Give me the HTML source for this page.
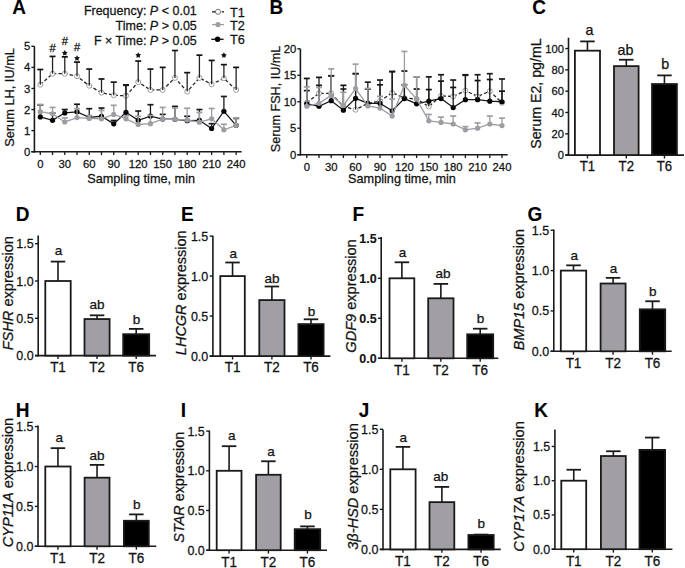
<!DOCTYPE html><html><head><meta charset="utf-8"><style>html,body{margin:0;padding:0;background:#fff;}svg{display:block;}text{font-family:"Liberation Sans", sans-serif;-webkit-font-smoothing:antialiased;}</style></head><body>
<svg width="685" height="568" viewBox="0 0 685 568">
<rect width="685" height="568" fill="#fff"/>
<line x1="34.40" y1="46.30" x2="34.40" y2="152.50" stroke="#1a1a1a" stroke-width="1.6" />
<line x1="31.40" y1="151.70" x2="241.60" y2="151.70" stroke="#1a1a1a" stroke-width="1.6" />
<line x1="31.40" y1="151.70" x2="34.40" y2="151.70" stroke="#1a1a1a" stroke-width="1.4" />
<text transform="translate(30.40 155.77) scale(1 1.04)" font-size="11.3" text-anchor="end" font-weight="normal" font-style="normal" fill="#111" stroke="#111" stroke-width="0.25" >0</text>
<line x1="31.40" y1="130.62" x2="34.40" y2="130.62" stroke="#1a1a1a" stroke-width="1.4" />
<text transform="translate(30.40 134.69) scale(1 1.04)" font-size="11.3" text-anchor="end" font-weight="normal" font-style="normal" fill="#111" stroke="#111" stroke-width="0.25" >1</text>
<line x1="31.40" y1="109.54" x2="34.40" y2="109.54" stroke="#1a1a1a" stroke-width="1.4" />
<text transform="translate(30.40 113.61) scale(1 1.04)" font-size="11.3" text-anchor="end" font-weight="normal" font-style="normal" fill="#111" stroke="#111" stroke-width="0.25" >2</text>
<line x1="31.40" y1="88.46" x2="34.40" y2="88.46" stroke="#1a1a1a" stroke-width="1.4" />
<text transform="translate(30.40 92.53) scale(1 1.04)" font-size="11.3" text-anchor="end" font-weight="normal" font-style="normal" fill="#111" stroke="#111" stroke-width="0.25" >3</text>
<line x1="31.40" y1="67.38" x2="34.40" y2="67.38" stroke="#1a1a1a" stroke-width="1.4" />
<text transform="translate(30.40 71.45) scale(1 1.04)" font-size="11.3" text-anchor="end" font-weight="normal" font-style="normal" fill="#111" stroke="#111" stroke-width="0.25" >4</text>
<line x1="31.40" y1="46.30" x2="34.40" y2="46.30" stroke="#1a1a1a" stroke-width="1.4" />
<text transform="translate(30.40 50.37) scale(1 1.04)" font-size="11.3" text-anchor="end" font-weight="normal" font-style="normal" fill="#111" stroke="#111" stroke-width="0.25" >5</text>
<line x1="40.30" y1="151.70" x2="40.30" y2="155.00" stroke="#1a1a1a" stroke-width="1.3" />
<text transform="translate(40.30 167.50) scale(1 1.04)" font-size="11.3" text-anchor="middle" font-weight="normal" font-style="normal" fill="#111" stroke="#111" stroke-width="0.25" >0</text>
<line x1="52.54" y1="151.70" x2="52.54" y2="155.00" stroke="#1a1a1a" stroke-width="1.3" />
<line x1="64.78" y1="151.70" x2="64.78" y2="155.00" stroke="#1a1a1a" stroke-width="1.3" />
<text transform="translate(64.78 167.50) scale(1 1.04)" font-size="11.3" text-anchor="middle" font-weight="normal" font-style="normal" fill="#111" stroke="#111" stroke-width="0.25" >30</text>
<line x1="77.02" y1="151.70" x2="77.02" y2="155.00" stroke="#1a1a1a" stroke-width="1.3" />
<line x1="89.26" y1="151.70" x2="89.26" y2="155.00" stroke="#1a1a1a" stroke-width="1.3" />
<text transform="translate(89.26 167.50) scale(1 1.04)" font-size="11.3" text-anchor="middle" font-weight="normal" font-style="normal" fill="#111" stroke="#111" stroke-width="0.25" >60</text>
<line x1="101.50" y1="151.70" x2="101.50" y2="155.00" stroke="#1a1a1a" stroke-width="1.3" />
<line x1="113.74" y1="151.70" x2="113.74" y2="155.00" stroke="#1a1a1a" stroke-width="1.3" />
<text transform="translate(113.74 167.50) scale(1 1.04)" font-size="11.3" text-anchor="middle" font-weight="normal" font-style="normal" fill="#111" stroke="#111" stroke-width="0.25" >90</text>
<line x1="125.98" y1="151.70" x2="125.98" y2="155.00" stroke="#1a1a1a" stroke-width="1.3" />
<line x1="138.22" y1="151.70" x2="138.22" y2="155.00" stroke="#1a1a1a" stroke-width="1.3" />
<text transform="translate(138.22 167.50) scale(1 1.04)" font-size="11.3" text-anchor="middle" font-weight="normal" font-style="normal" fill="#111" stroke="#111" stroke-width="0.25" >120</text>
<line x1="150.46" y1="151.70" x2="150.46" y2="155.00" stroke="#1a1a1a" stroke-width="1.3" />
<line x1="162.70" y1="151.70" x2="162.70" y2="155.00" stroke="#1a1a1a" stroke-width="1.3" />
<text transform="translate(162.70 167.50) scale(1 1.04)" font-size="11.3" text-anchor="middle" font-weight="normal" font-style="normal" fill="#111" stroke="#111" stroke-width="0.25" >150</text>
<line x1="174.94" y1="151.70" x2="174.94" y2="155.00" stroke="#1a1a1a" stroke-width="1.3" />
<line x1="187.18" y1="151.70" x2="187.18" y2="155.00" stroke="#1a1a1a" stroke-width="1.3" />
<text transform="translate(187.18 167.50) scale(1 1.04)" font-size="11.3" text-anchor="middle" font-weight="normal" font-style="normal" fill="#111" stroke="#111" stroke-width="0.25" >180</text>
<line x1="199.42" y1="151.70" x2="199.42" y2="155.00" stroke="#1a1a1a" stroke-width="1.3" />
<line x1="211.66" y1="151.70" x2="211.66" y2="155.00" stroke="#1a1a1a" stroke-width="1.3" />
<text transform="translate(211.66 167.50) scale(1 1.04)" font-size="11.3" text-anchor="middle" font-weight="normal" font-style="normal" fill="#111" stroke="#111" stroke-width="0.25" >210</text>
<line x1="223.90" y1="151.70" x2="223.90" y2="155.00" stroke="#1a1a1a" stroke-width="1.3" />
<line x1="236.14" y1="151.70" x2="236.14" y2="155.00" stroke="#1a1a1a" stroke-width="1.3" />
<text transform="translate(236.14 167.50) scale(1 1.04)" font-size="11.3" text-anchor="middle" font-weight="normal" font-style="normal" fill="#111" stroke="#111" stroke-width="0.25" >240</text>
<text transform="translate(141.10 182.80) scale(1 1.04)" font-size="12.7" text-anchor="middle" font-weight="normal" font-style="normal" fill="#111" stroke="#111" stroke-width="0.25" >Sampling time, min</text>
<text transform="translate(14.30,97.45) rotate(-90) scale(1 1.015)" x="0" y="0" font-size="12.8" text-anchor="middle" fill="#111" stroke="#111" stroke-width="0.25">Serum LH, IU/mL</text>
<text transform="translate(12.30 13.70) scale(1 1.04)" font-size="19" text-anchor="start" font-weight="bold" font-style="normal" fill="#000" stroke="#000" stroke-width="0.1" >A</text>
<polyline points="40.30,84.67 52.54,73.70 64.78,73.70 77.02,76.23 89.26,85.72 101.50,92.68 113.74,95.21 125.98,95.84 138.22,82.14 150.46,89.94 162.70,89.94 174.94,77.92 187.18,91.62 199.42,77.92 211.66,84.24 223.90,78.34 236.14,89.94" fill="none" stroke="#222" stroke-width="1.3" stroke-dasharray="3.4,2.2"/>
<circle cx="40.30" cy="84.67" r="2.5" fill="#fff" stroke="#777" stroke-width="0.7"/>
<circle cx="52.54" cy="73.70" r="2.5" fill="#fff" stroke="#777" stroke-width="0.7"/>
<circle cx="64.78" cy="73.70" r="2.5" fill="#fff" stroke="#777" stroke-width="0.7"/>
<circle cx="77.02" cy="76.23" r="2.5" fill="#fff" stroke="#777" stroke-width="0.7"/>
<circle cx="89.26" cy="85.72" r="2.5" fill="#fff" stroke="#777" stroke-width="0.7"/>
<circle cx="101.50" cy="92.68" r="2.5" fill="#fff" stroke="#777" stroke-width="0.7"/>
<circle cx="113.74" cy="95.21" r="2.5" fill="#fff" stroke="#777" stroke-width="0.7"/>
<circle cx="125.98" cy="95.84" r="2.5" fill="#fff" stroke="#777" stroke-width="0.7"/>
<circle cx="138.22" cy="82.14" r="2.5" fill="#fff" stroke="#777" stroke-width="0.7"/>
<circle cx="150.46" cy="89.94" r="2.5" fill="#fff" stroke="#777" stroke-width="0.7"/>
<circle cx="162.70" cy="89.94" r="2.5" fill="#fff" stroke="#777" stroke-width="0.7"/>
<circle cx="174.94" cy="77.92" r="2.5" fill="#fff" stroke="#777" stroke-width="0.7"/>
<circle cx="187.18" cy="91.62" r="2.5" fill="#fff" stroke="#777" stroke-width="0.7"/>
<circle cx="199.42" cy="77.92" r="2.5" fill="#fff" stroke="#777" stroke-width="0.7"/>
<circle cx="211.66" cy="84.24" r="2.5" fill="#fff" stroke="#777" stroke-width="0.7"/>
<circle cx="223.90" cy="78.34" r="2.5" fill="#fff" stroke="#777" stroke-width="0.7"/>
<circle cx="236.14" cy="89.94" r="2.5" fill="#fff" stroke="#777" stroke-width="0.7"/>
<line x1="40.30" y1="69.49" x2="40.30" y2="84.67" stroke="#222" stroke-width="1.3" />
<line x1="37.30" y1="69.49" x2="43.30" y2="69.49" stroke="#111" stroke-width="1.7" />
<line x1="52.54" y1="56.42" x2="52.54" y2="73.70" stroke="#222" stroke-width="1.3" />
<line x1="49.54" y1="56.42" x2="55.54" y2="56.42" stroke="#111" stroke-width="1.7" />
<line x1="64.78" y1="56.84" x2="64.78" y2="73.70" stroke="#222" stroke-width="1.3" />
<line x1="61.78" y1="56.84" x2="67.78" y2="56.84" stroke="#111" stroke-width="1.7" />
<line x1="77.02" y1="62.11" x2="77.02" y2="76.23" stroke="#222" stroke-width="1.3" />
<line x1="74.02" y1="62.11" x2="80.02" y2="62.11" stroke="#111" stroke-width="1.7" />
<line x1="89.26" y1="69.07" x2="89.26" y2="85.72" stroke="#222" stroke-width="1.3" />
<line x1="86.26" y1="69.07" x2="92.26" y2="69.07" stroke="#111" stroke-width="1.7" />
<line x1="101.50" y1="78.97" x2="101.50" y2="92.68" stroke="#222" stroke-width="1.3" />
<line x1="98.50" y1="78.97" x2="104.50" y2="78.97" stroke="#111" stroke-width="1.7" />
<line x1="113.74" y1="82.14" x2="113.74" y2="95.21" stroke="#222" stroke-width="1.3" />
<line x1="110.74" y1="82.14" x2="116.74" y2="82.14" stroke="#111" stroke-width="1.7" />
<line x1="125.98" y1="84.88" x2="125.98" y2="95.84" stroke="#222" stroke-width="1.3" />
<line x1="122.98" y1="84.88" x2="128.98" y2="84.88" stroke="#111" stroke-width="1.7" />
<line x1="138.22" y1="61.06" x2="138.22" y2="82.14" stroke="#222" stroke-width="1.3" />
<line x1="135.22" y1="61.06" x2="141.22" y2="61.06" stroke="#111" stroke-width="1.7" />
<line x1="150.46" y1="69.07" x2="150.46" y2="89.94" stroke="#222" stroke-width="1.3" />
<line x1="147.46" y1="69.07" x2="153.46" y2="69.07" stroke="#111" stroke-width="1.7" />
<line x1="162.70" y1="67.38" x2="162.70" y2="89.94" stroke="#222" stroke-width="1.3" />
<line x1="159.70" y1="67.38" x2="165.70" y2="67.38" stroke="#111" stroke-width="1.7" />
<line x1="174.94" y1="50.52" x2="174.94" y2="77.92" stroke="#222" stroke-width="1.3" />
<line x1="171.94" y1="50.52" x2="177.94" y2="50.52" stroke="#111" stroke-width="1.7" />
<line x1="187.18" y1="72.65" x2="187.18" y2="91.62" stroke="#222" stroke-width="1.3" />
<line x1="184.18" y1="72.65" x2="190.18" y2="72.65" stroke="#111" stroke-width="1.7" />
<line x1="199.42" y1="55.15" x2="199.42" y2="77.92" stroke="#222" stroke-width="1.3" />
<line x1="196.42" y1="55.15" x2="202.42" y2="55.15" stroke="#111" stroke-width="1.7" />
<line x1="211.66" y1="60.42" x2="211.66" y2="84.24" stroke="#222" stroke-width="1.3" />
<line x1="208.66" y1="60.42" x2="214.66" y2="60.42" stroke="#111" stroke-width="1.7" />
<line x1="223.90" y1="64.64" x2="223.90" y2="78.34" stroke="#222" stroke-width="1.3" />
<line x1="220.90" y1="64.64" x2="226.90" y2="64.64" stroke="#111" stroke-width="1.7" />
<line x1="236.14" y1="67.38" x2="236.14" y2="89.94" stroke="#222" stroke-width="1.3" />
<line x1="233.14" y1="67.38" x2="239.14" y2="67.38" stroke="#111" stroke-width="1.7" />
<polyline points="40.30,116.92 52.54,120.29 64.78,112.91 77.02,111.86 89.26,117.34 101.50,116.29 113.74,123.87 125.98,112.28 138.22,120.29 150.46,116.07 162.70,119.03 174.94,119.24 187.18,120.71 199.42,120.29 211.66,128.51 223.90,111.23 236.14,125.35" fill="none" stroke="#1a1a1a" stroke-width="1.3" />
<circle cx="40.30" cy="116.92" r="2.6" fill="#000"/>
<circle cx="52.54" cy="120.29" r="2.6" fill="#000"/>
<circle cx="64.78" cy="112.91" r="2.6" fill="#000"/>
<circle cx="77.02" cy="111.86" r="2.6" fill="#000"/>
<circle cx="89.26" cy="117.34" r="2.6" fill="#000"/>
<circle cx="101.50" cy="116.29" r="2.6" fill="#000"/>
<circle cx="113.74" cy="123.87" r="2.6" fill="#000"/>
<circle cx="125.98" cy="112.28" r="2.6" fill="#000"/>
<circle cx="138.22" cy="120.29" r="2.6" fill="#000"/>
<circle cx="150.46" cy="116.07" r="2.6" fill="#000"/>
<circle cx="162.70" cy="119.03" r="2.6" fill="#000"/>
<circle cx="174.94" cy="119.24" r="2.6" fill="#000"/>
<circle cx="187.18" cy="120.71" r="2.6" fill="#000"/>
<circle cx="199.42" cy="120.29" r="2.6" fill="#000"/>
<circle cx="211.66" cy="128.51" r="2.6" fill="#000"/>
<circle cx="223.90" cy="111.23" r="2.6" fill="#000"/>
<circle cx="236.14" cy="125.35" r="2.6" fill="#000"/>
<line x1="40.30" y1="104.90" x2="40.30" y2="116.92" stroke="#1a1a1a" stroke-width="1.3" />
<line x1="37.30" y1="104.90" x2="43.30" y2="104.90" stroke="#1a1a1a" stroke-width="1.7" />
<line x1="52.54" y1="113.12" x2="52.54" y2="120.29" stroke="#1a1a1a" stroke-width="1.3" />
<line x1="49.54" y1="113.12" x2="55.54" y2="113.12" stroke="#1a1a1a" stroke-width="1.7" />
<line x1="64.78" y1="109.54" x2="64.78" y2="112.91" stroke="#1a1a1a" stroke-width="1.3" />
<line x1="61.78" y1="109.54" x2="67.78" y2="109.54" stroke="#1a1a1a" stroke-width="1.7" />
<line x1="77.02" y1="104.27" x2="77.02" y2="111.86" stroke="#1a1a1a" stroke-width="1.3" />
<line x1="74.02" y1="104.27" x2="80.02" y2="104.27" stroke="#1a1a1a" stroke-width="1.7" />
<line x1="89.26" y1="108.70" x2="89.26" y2="117.34" stroke="#1a1a1a" stroke-width="1.3" />
<line x1="86.26" y1="108.70" x2="92.26" y2="108.70" stroke="#1a1a1a" stroke-width="1.7" />
<line x1="101.50" y1="108.06" x2="101.50" y2="116.29" stroke="#1a1a1a" stroke-width="1.3" />
<line x1="98.50" y1="108.06" x2="104.50" y2="108.06" stroke="#1a1a1a" stroke-width="1.7" />
<line x1="113.74" y1="120.50" x2="113.74" y2="123.87" stroke="#1a1a1a" stroke-width="1.3" />
<line x1="110.74" y1="120.50" x2="116.74" y2="120.50" stroke="#1a1a1a" stroke-width="1.7" />
<line x1="125.98" y1="85.30" x2="125.98" y2="112.28" stroke="#1a1a1a" stroke-width="1.3" />
<line x1="122.98" y1="85.30" x2="128.98" y2="85.30" stroke="#1a1a1a" stroke-width="1.7" />
<line x1="138.22" y1="111.02" x2="138.22" y2="120.29" stroke="#1a1a1a" stroke-width="1.3" />
<line x1="135.22" y1="111.02" x2="141.22" y2="111.02" stroke="#1a1a1a" stroke-width="1.7" />
<line x1="150.46" y1="104.69" x2="150.46" y2="116.07" stroke="#1a1a1a" stroke-width="1.3" />
<line x1="147.46" y1="104.69" x2="153.46" y2="104.69" stroke="#1a1a1a" stroke-width="1.7" />
<line x1="162.70" y1="114.39" x2="162.70" y2="119.03" stroke="#1a1a1a" stroke-width="1.3" />
<line x1="159.70" y1="114.39" x2="165.70" y2="114.39" stroke="#1a1a1a" stroke-width="1.7" />
<line x1="174.94" y1="106.38" x2="174.94" y2="119.24" stroke="#1a1a1a" stroke-width="1.3" />
<line x1="171.94" y1="106.38" x2="177.94" y2="106.38" stroke="#1a1a1a" stroke-width="1.7" />
<line x1="187.18" y1="116.29" x2="187.18" y2="120.71" stroke="#1a1a1a" stroke-width="1.3" />
<line x1="184.18" y1="116.29" x2="190.18" y2="116.29" stroke="#1a1a1a" stroke-width="1.7" />
<line x1="199.42" y1="109.54" x2="199.42" y2="120.29" stroke="#1a1a1a" stroke-width="1.3" />
<line x1="196.42" y1="109.54" x2="202.42" y2="109.54" stroke="#1a1a1a" stroke-width="1.7" />
<line x1="211.66" y1="123.66" x2="211.66" y2="128.51" stroke="#1a1a1a" stroke-width="1.3" />
<line x1="208.66" y1="123.66" x2="214.66" y2="123.66" stroke="#1a1a1a" stroke-width="1.7" />
<line x1="223.90" y1="96.47" x2="223.90" y2="111.23" stroke="#1a1a1a" stroke-width="1.3" />
<line x1="220.90" y1="96.47" x2="226.90" y2="96.47" stroke="#1a1a1a" stroke-width="1.7" />
<line x1="236.14" y1="118.39" x2="236.14" y2="125.35" stroke="#1a1a1a" stroke-width="1.3" />
<line x1="233.14" y1="118.39" x2="239.14" y2="118.39" stroke="#1a1a1a" stroke-width="1.7" />
<polyline points="40.30,111.65 52.54,113.76 64.78,121.98 77.02,117.55 89.26,118.39 101.50,118.82 113.74,114.39 125.98,118.82 138.22,124.51 150.46,123.66 162.70,119.03 174.94,119.24 187.18,120.08 199.42,122.19 211.66,118.82 223.90,129.78 236.14,125.35" fill="none" stroke="#9e9da3" stroke-width="1.3" />
<circle cx="40.30" cy="111.65" r="2.6" fill="#9e9da3"/>
<circle cx="52.54" cy="113.76" r="2.6" fill="#9e9da3"/>
<circle cx="64.78" cy="121.98" r="2.6" fill="#9e9da3"/>
<circle cx="77.02" cy="117.55" r="2.6" fill="#9e9da3"/>
<circle cx="89.26" cy="118.39" r="2.6" fill="#9e9da3"/>
<circle cx="101.50" cy="118.82" r="2.6" fill="#9e9da3"/>
<circle cx="113.74" cy="114.39" r="2.6" fill="#9e9da3"/>
<circle cx="125.98" cy="118.82" r="2.6" fill="#9e9da3"/>
<circle cx="138.22" cy="124.51" r="2.6" fill="#9e9da3"/>
<circle cx="150.46" cy="123.66" r="2.6" fill="#9e9da3"/>
<circle cx="162.70" cy="119.03" r="2.6" fill="#9e9da3"/>
<circle cx="174.94" cy="119.24" r="2.6" fill="#9e9da3"/>
<circle cx="187.18" cy="120.08" r="2.6" fill="#9e9da3"/>
<circle cx="199.42" cy="122.19" r="2.6" fill="#9e9da3"/>
<circle cx="211.66" cy="118.82" r="2.6" fill="#9e9da3"/>
<circle cx="223.90" cy="129.78" r="2.6" fill="#9e9da3"/>
<circle cx="236.14" cy="125.35" r="2.6" fill="#9e9da3"/>
<line x1="40.30" y1="104.48" x2="40.30" y2="111.65" stroke="#9e9da3" stroke-width="1.3" />
<line x1="37.30" y1="104.48" x2="43.30" y2="104.48" stroke="#9e9da3" stroke-width="1.7" />
<line x1="52.54" y1="107.43" x2="52.54" y2="113.76" stroke="#9e9da3" stroke-width="1.3" />
<line x1="49.54" y1="107.43" x2="55.54" y2="107.43" stroke="#9e9da3" stroke-width="1.7" />
<line x1="64.78" y1="117.97" x2="64.78" y2="121.98" stroke="#9e9da3" stroke-width="1.3" />
<line x1="61.78" y1="117.97" x2="67.78" y2="117.97" stroke="#9e9da3" stroke-width="1.7" />
<line x1="77.02" y1="108.70" x2="77.02" y2="117.55" stroke="#9e9da3" stroke-width="1.3" />
<line x1="74.02" y1="108.70" x2="80.02" y2="108.70" stroke="#9e9da3" stroke-width="1.7" />
<line x1="89.26" y1="115.44" x2="89.26" y2="118.39" stroke="#9e9da3" stroke-width="1.3" />
<line x1="86.26" y1="115.44" x2="92.26" y2="115.44" stroke="#9e9da3" stroke-width="1.7" />
<line x1="101.50" y1="110.38" x2="101.50" y2="118.82" stroke="#9e9da3" stroke-width="1.3" />
<line x1="98.50" y1="110.38" x2="104.50" y2="110.38" stroke="#9e9da3" stroke-width="1.7" />
<line x1="113.74" y1="105.32" x2="113.74" y2="114.39" stroke="#9e9da3" stroke-width="1.3" />
<line x1="110.74" y1="105.32" x2="116.74" y2="105.32" stroke="#9e9da3" stroke-width="1.7" />
<line x1="125.98" y1="115.86" x2="125.98" y2="118.82" stroke="#9e9da3" stroke-width="1.3" />
<line x1="122.98" y1="115.86" x2="128.98" y2="115.86" stroke="#9e9da3" stroke-width="1.7" />
<line x1="138.22" y1="116.29" x2="138.22" y2="124.51" stroke="#9e9da3" stroke-width="1.3" />
<line x1="135.22" y1="116.29" x2="141.22" y2="116.29" stroke="#9e9da3" stroke-width="1.7" />
<line x1="150.46" y1="115.44" x2="150.46" y2="123.66" stroke="#9e9da3" stroke-width="1.3" />
<line x1="147.46" y1="115.44" x2="153.46" y2="115.44" stroke="#9e9da3" stroke-width="1.7" />
<line x1="162.70" y1="107.43" x2="162.70" y2="119.03" stroke="#9e9da3" stroke-width="1.3" />
<line x1="159.70" y1="107.43" x2="165.70" y2="107.43" stroke="#9e9da3" stroke-width="1.7" />
<line x1="174.94" y1="108.06" x2="174.94" y2="119.24" stroke="#9e9da3" stroke-width="1.3" />
<line x1="171.94" y1="108.06" x2="177.94" y2="108.06" stroke="#9e9da3" stroke-width="1.7" />
<line x1="187.18" y1="108.28" x2="187.18" y2="120.08" stroke="#9e9da3" stroke-width="1.3" />
<line x1="184.18" y1="108.28" x2="190.18" y2="108.28" stroke="#9e9da3" stroke-width="1.7" />
<line x1="199.42" y1="112.49" x2="199.42" y2="122.19" stroke="#9e9da3" stroke-width="1.3" />
<line x1="196.42" y1="112.49" x2="202.42" y2="112.49" stroke="#9e9da3" stroke-width="1.7" />
<line x1="211.66" y1="108.49" x2="211.66" y2="118.82" stroke="#9e9da3" stroke-width="1.3" />
<line x1="208.66" y1="108.49" x2="214.66" y2="108.49" stroke="#9e9da3" stroke-width="1.7" />
<line x1="223.90" y1="124.30" x2="223.90" y2="129.78" stroke="#9e9da3" stroke-width="1.3" />
<line x1="220.90" y1="124.30" x2="226.90" y2="124.30" stroke="#9e9da3" stroke-width="1.7" />
<line x1="236.14" y1="117.97" x2="236.14" y2="125.35" stroke="#9e9da3" stroke-width="1.3" />
<line x1="233.14" y1="117.97" x2="239.14" y2="117.97" stroke="#9e9da3" stroke-width="1.7" />
<polygon points="64.78,50.05 65.72,51.81 67.68,52.16 66.30,53.59 66.57,55.57 64.78,54.70 62.99,55.57 63.26,53.59 61.88,52.16 63.84,51.81" fill="#111"/>
<polygon points="77.02,55.25 77.96,57.01 79.92,57.36 78.54,58.79 78.81,60.77 77.02,59.90 75.23,60.77 75.50,58.79 74.12,57.36 76.08,57.01" fill="#111"/>
<polygon points="138.22,52.25 139.16,54.01 141.12,54.36 139.74,55.79 140.01,57.77 138.22,56.90 136.43,57.77 136.70,55.79 135.32,54.36 137.28,54.01" fill="#111"/>
<polygon points="223.90,52.35 224.84,54.11 226.80,54.46 225.42,55.89 225.69,57.87 223.90,57.00 222.11,57.87 222.38,55.89 221.00,54.46 222.96,54.11" fill="#111"/>
<text transform="translate(52.64 51.90) scale(1 1.04)" font-size="11.2" text-anchor="middle" font-weight="normal" font-style="normal" fill="#111" stroke="#111" stroke-width="0.25" >#</text>
<text transform="translate(64.88 45.15) scale(1 1.04)" font-size="11.2" text-anchor="middle" font-weight="normal" font-style="normal" fill="#111" stroke="#111" stroke-width="0.25" >#</text>
<text transform="translate(77.12 50.60) scale(1 1.04)" font-size="11.2" text-anchor="middle" font-weight="normal" font-style="normal" fill="#111" stroke="#111" stroke-width="0.25" >#</text>
<text transform="translate(196.80 14.70) scale(1 1.04)" font-size="12.5" text-anchor="end" font-weight="normal" font-style="normal" fill="#111" stroke="#111" stroke-width="0.25" >Frequency: <tspan font-style="italic">P</tspan> &lt; 0.01</text>
<text transform="translate(196.80 29.90) scale(1 1.04)" font-size="12.5" text-anchor="end" font-weight="normal" font-style="normal" fill="#111" stroke="#111" stroke-width="0.25" >Time: <tspan font-style="italic">P</tspan> &gt; 0.05</text>
<text transform="translate(196.80 44.60) scale(1 1.04)" font-size="12.5" text-anchor="end" font-weight="normal" font-style="normal" fill="#111" stroke="#111" stroke-width="0.25" >F × Time: <tspan font-style="italic">P</tspan> &gt; 0.05</text>
<line x1="212.00" y1="11.80" x2="215.80" y2="11.80" stroke="#444" stroke-width="1.6" />
<line x1="221.80" y1="11.80" x2="224.00" y2="11.80" stroke="#444" stroke-width="1.6" />
<circle cx="218" cy="11.8" r="2.6" fill="#fff" stroke="#555" stroke-width="0.8"/>
<line x1="212.00" y1="24.60" x2="224.00" y2="24.60" stroke="#9e9da3" stroke-width="1.3" />
<circle cx="218" cy="24.6" r="2.6" fill="#9e9da3"/>
<line x1="211.30" y1="39.30" x2="223.60" y2="39.30" stroke="#1a1a1a" stroke-width="1.4" />
<circle cx="217.6" cy="39.3" r="2.7" fill="#000"/>
<text transform="translate(230.00 16.50) scale(1 1.04)" font-size="12.7" text-anchor="start" font-weight="normal" font-style="normal" fill="#111" stroke="#111" stroke-width="0.25" >T1</text>
<text transform="translate(230.00 29.60) scale(1 1.04)" font-size="12.7" text-anchor="start" font-weight="normal" font-style="normal" fill="#111" stroke="#111" stroke-width="0.25" >T2</text>
<text transform="translate(230.00 44.00) scale(1 1.04)" font-size="12.7" text-anchor="start" font-weight="normal" font-style="normal" fill="#111" stroke="#111" stroke-width="0.25" >T6</text>
<line x1="300.40" y1="48.80" x2="300.40" y2="155.50" stroke="#1a1a1a" stroke-width="1.6" />
<line x1="297.40" y1="154.70" x2="507.70" y2="154.70" stroke="#1a1a1a" stroke-width="1.6" />
<line x1="297.40" y1="154.70" x2="300.40" y2="154.70" stroke="#1a1a1a" stroke-width="1.4" />
<text transform="translate(296.40 158.77) scale(1 1.04)" font-size="11.3" text-anchor="end" font-weight="normal" font-style="normal" fill="#111" stroke="#111" stroke-width="0.25" >0</text>
<line x1="297.40" y1="128.22" x2="300.40" y2="128.22" stroke="#1a1a1a" stroke-width="1.4" />
<text transform="translate(296.40 132.29) scale(1 1.04)" font-size="11.3" text-anchor="end" font-weight="normal" font-style="normal" fill="#111" stroke="#111" stroke-width="0.25" >5</text>
<line x1="297.40" y1="101.75" x2="300.40" y2="101.75" stroke="#1a1a1a" stroke-width="1.4" />
<text transform="translate(296.40 105.82) scale(1 1.04)" font-size="11.3" text-anchor="end" font-weight="normal" font-style="normal" fill="#111" stroke="#111" stroke-width="0.25" >10</text>
<line x1="297.40" y1="75.27" x2="300.40" y2="75.27" stroke="#1a1a1a" stroke-width="1.4" />
<text transform="translate(296.40 79.34) scale(1 1.04)" font-size="11.3" text-anchor="end" font-weight="normal" font-style="normal" fill="#111" stroke="#111" stroke-width="0.25" >15</text>
<line x1="297.40" y1="48.80" x2="300.40" y2="48.80" stroke="#1a1a1a" stroke-width="1.4" />
<text transform="translate(296.40 52.87) scale(1 1.04)" font-size="11.3" text-anchor="end" font-weight="normal" font-style="normal" fill="#111" stroke="#111" stroke-width="0.25" >20</text>
<line x1="306.80" y1="154.70" x2="306.80" y2="158.00" stroke="#1a1a1a" stroke-width="1.3" />
<text transform="translate(306.80 170.50) scale(1 1.04)" font-size="11.3" text-anchor="middle" font-weight="normal" font-style="normal" fill="#111" stroke="#111" stroke-width="0.25" >0</text>
<line x1="319.00" y1="154.70" x2="319.00" y2="158.00" stroke="#1a1a1a" stroke-width="1.3" />
<line x1="331.20" y1="154.70" x2="331.20" y2="158.00" stroke="#1a1a1a" stroke-width="1.3" />
<text transform="translate(331.20 170.50) scale(1 1.04)" font-size="11.3" text-anchor="middle" font-weight="normal" font-style="normal" fill="#111" stroke="#111" stroke-width="0.25" >30</text>
<line x1="343.40" y1="154.70" x2="343.40" y2="158.00" stroke="#1a1a1a" stroke-width="1.3" />
<line x1="355.60" y1="154.70" x2="355.60" y2="158.00" stroke="#1a1a1a" stroke-width="1.3" />
<text transform="translate(355.60 170.50) scale(1 1.04)" font-size="11.3" text-anchor="middle" font-weight="normal" font-style="normal" fill="#111" stroke="#111" stroke-width="0.25" >60</text>
<line x1="367.80" y1="154.70" x2="367.80" y2="158.00" stroke="#1a1a1a" stroke-width="1.3" />
<line x1="380.00" y1="154.70" x2="380.00" y2="158.00" stroke="#1a1a1a" stroke-width="1.3" />
<text transform="translate(380.00 170.50) scale(1 1.04)" font-size="11.3" text-anchor="middle" font-weight="normal" font-style="normal" fill="#111" stroke="#111" stroke-width="0.25" >90</text>
<line x1="392.20" y1="154.70" x2="392.20" y2="158.00" stroke="#1a1a1a" stroke-width="1.3" />
<line x1="404.40" y1="154.70" x2="404.40" y2="158.00" stroke="#1a1a1a" stroke-width="1.3" />
<text transform="translate(404.40 170.50) scale(1 1.04)" font-size="11.3" text-anchor="middle" font-weight="normal" font-style="normal" fill="#111" stroke="#111" stroke-width="0.25" >120</text>
<line x1="416.60" y1="154.70" x2="416.60" y2="158.00" stroke="#1a1a1a" stroke-width="1.3" />
<line x1="428.80" y1="154.70" x2="428.80" y2="158.00" stroke="#1a1a1a" stroke-width="1.3" />
<text transform="translate(428.80 170.50) scale(1 1.04)" font-size="11.3" text-anchor="middle" font-weight="normal" font-style="normal" fill="#111" stroke="#111" stroke-width="0.25" >150</text>
<line x1="441.00" y1="154.70" x2="441.00" y2="158.00" stroke="#1a1a1a" stroke-width="1.3" />
<line x1="453.20" y1="154.70" x2="453.20" y2="158.00" stroke="#1a1a1a" stroke-width="1.3" />
<text transform="translate(453.20 170.50) scale(1 1.04)" font-size="11.3" text-anchor="middle" font-weight="normal" font-style="normal" fill="#111" stroke="#111" stroke-width="0.25" >180</text>
<line x1="465.40" y1="154.70" x2="465.40" y2="158.00" stroke="#1a1a1a" stroke-width="1.3" />
<line x1="477.60" y1="154.70" x2="477.60" y2="158.00" stroke="#1a1a1a" stroke-width="1.3" />
<text transform="translate(477.60 170.50) scale(1 1.04)" font-size="11.3" text-anchor="middle" font-weight="normal" font-style="normal" fill="#111" stroke="#111" stroke-width="0.25" >210</text>
<line x1="489.80" y1="154.70" x2="489.80" y2="158.00" stroke="#1a1a1a" stroke-width="1.3" />
<line x1="502.00" y1="154.70" x2="502.00" y2="158.00" stroke="#1a1a1a" stroke-width="1.3" />
<text transform="translate(502.00 170.50) scale(1 1.04)" font-size="11.3" text-anchor="middle" font-weight="normal" font-style="normal" fill="#111" stroke="#111" stroke-width="0.25" >240</text>
<text transform="translate(402.00 183.20) scale(1 1.04)" font-size="12.7" text-anchor="middle" font-weight="normal" font-style="normal" fill="#111" stroke="#111" stroke-width="0.25" >Sampling time, min</text>
<text transform="translate(280.20,98.95) rotate(-90) scale(1 1.015)" x="0" y="0" font-size="12.6" text-anchor="middle" fill="#111" stroke="#111" stroke-width="0.25">Serum FSH, IU/mL</text>
<text transform="translate(269.40 13.80) scale(1 1.04)" font-size="19" text-anchor="start" font-weight="bold" font-style="normal" fill="#000" stroke="#000" stroke-width="0.1" >B</text>
<polyline points="306.80,102.81 319.00,93.28 331.20,93.28 343.40,106.52 355.60,109.69 367.80,103.34 380.00,101.22 392.20,92.75 404.40,98.04 416.60,99.10 428.80,106.52 441.00,95.93 453.20,96.45 465.40,90.63 477.60,96.45 489.80,91.16 502.00,102.81" fill="none" stroke="#222" stroke-width="1.3" stroke-dasharray="3.4,2.2"/>
<circle cx="306.80" cy="102.81" r="2.5" fill="#fff" stroke="#777" stroke-width="0.7"/>
<circle cx="319.00" cy="93.28" r="2.5" fill="#fff" stroke="#777" stroke-width="0.7"/>
<circle cx="331.20" cy="93.28" r="2.5" fill="#fff" stroke="#777" stroke-width="0.7"/>
<circle cx="343.40" cy="106.52" r="2.5" fill="#fff" stroke="#777" stroke-width="0.7"/>
<circle cx="355.60" cy="109.69" r="2.5" fill="#fff" stroke="#777" stroke-width="0.7"/>
<circle cx="367.80" cy="103.34" r="2.5" fill="#fff" stroke="#777" stroke-width="0.7"/>
<circle cx="380.00" cy="101.22" r="2.5" fill="#fff" stroke="#777" stroke-width="0.7"/>
<circle cx="392.20" cy="92.75" r="2.5" fill="#fff" stroke="#777" stroke-width="0.7"/>
<circle cx="404.40" cy="98.04" r="2.5" fill="#fff" stroke="#777" stroke-width="0.7"/>
<circle cx="416.60" cy="99.10" r="2.5" fill="#fff" stroke="#777" stroke-width="0.7"/>
<circle cx="428.80" cy="106.52" r="2.5" fill="#fff" stroke="#777" stroke-width="0.7"/>
<circle cx="441.00" cy="95.93" r="2.5" fill="#fff" stroke="#777" stroke-width="0.7"/>
<circle cx="453.20" cy="96.45" r="2.5" fill="#fff" stroke="#777" stroke-width="0.7"/>
<circle cx="465.40" cy="90.63" r="2.5" fill="#fff" stroke="#777" stroke-width="0.7"/>
<circle cx="477.60" cy="96.45" r="2.5" fill="#fff" stroke="#777" stroke-width="0.7"/>
<circle cx="489.80" cy="91.16" r="2.5" fill="#fff" stroke="#777" stroke-width="0.7"/>
<circle cx="502.00" cy="102.81" r="2.5" fill="#fff" stroke="#777" stroke-width="0.7"/>
<line x1="306.80" y1="78.45" x2="306.80" y2="102.81" stroke="#222" stroke-width="1.3" />
<line x1="303.80" y1="78.45" x2="309.80" y2="78.45" stroke="#111" stroke-width="1.7" />
<line x1="319.00" y1="77.39" x2="319.00" y2="93.28" stroke="#222" stroke-width="1.3" />
<line x1="316.00" y1="77.39" x2="322.00" y2="77.39" stroke="#111" stroke-width="1.7" />
<line x1="331.20" y1="75.80" x2="331.20" y2="93.28" stroke="#222" stroke-width="1.3" />
<line x1="328.20" y1="75.80" x2="334.20" y2="75.80" stroke="#111" stroke-width="1.7" />
<line x1="343.40" y1="85.34" x2="343.40" y2="106.52" stroke="#222" stroke-width="1.3" />
<line x1="340.40" y1="85.34" x2="346.40" y2="85.34" stroke="#111" stroke-width="1.7" />
<line x1="355.60" y1="73.69" x2="355.60" y2="109.69" stroke="#222" stroke-width="1.3" />
<line x1="352.60" y1="73.69" x2="358.60" y2="73.69" stroke="#111" stroke-width="1.7" />
<line x1="367.80" y1="89.04" x2="367.80" y2="103.34" stroke="#222" stroke-width="1.3" />
<line x1="364.80" y1="89.04" x2="370.80" y2="89.04" stroke="#111" stroke-width="1.7" />
<line x1="380.00" y1="84.81" x2="380.00" y2="101.22" stroke="#222" stroke-width="1.3" />
<line x1="377.00" y1="84.81" x2="383.00" y2="84.81" stroke="#111" stroke-width="1.7" />
<line x1="392.20" y1="71.57" x2="392.20" y2="92.75" stroke="#222" stroke-width="1.3" />
<line x1="389.20" y1="71.57" x2="395.20" y2="71.57" stroke="#111" stroke-width="1.7" />
<line x1="404.40" y1="71.04" x2="404.40" y2="98.04" stroke="#222" stroke-width="1.3" />
<line x1="401.40" y1="71.04" x2="407.40" y2="71.04" stroke="#111" stroke-width="1.7" />
<line x1="416.60" y1="89.04" x2="416.60" y2="99.10" stroke="#222" stroke-width="1.3" />
<line x1="413.60" y1="89.04" x2="419.60" y2="89.04" stroke="#111" stroke-width="1.7" />
<line x1="428.80" y1="89.57" x2="428.80" y2="106.52" stroke="#222" stroke-width="1.3" />
<line x1="425.80" y1="89.57" x2="431.80" y2="89.57" stroke="#111" stroke-width="1.7" />
<line x1="441.00" y1="81.10" x2="441.00" y2="95.93" stroke="#222" stroke-width="1.3" />
<line x1="438.00" y1="81.10" x2="444.00" y2="81.10" stroke="#111" stroke-width="1.7" />
<line x1="453.20" y1="87.45" x2="453.20" y2="96.45" stroke="#222" stroke-width="1.3" />
<line x1="450.20" y1="87.45" x2="456.20" y2="87.45" stroke="#111" stroke-width="1.7" />
<line x1="465.40" y1="75.27" x2="465.40" y2="90.63" stroke="#222" stroke-width="1.3" />
<line x1="462.40" y1="75.27" x2="468.40" y2="75.27" stroke="#111" stroke-width="1.7" />
<line x1="477.60" y1="80.57" x2="477.60" y2="96.45" stroke="#222" stroke-width="1.3" />
<line x1="474.60" y1="80.57" x2="480.60" y2="80.57" stroke="#111" stroke-width="1.7" />
<line x1="489.80" y1="79.51" x2="489.80" y2="91.16" stroke="#222" stroke-width="1.3" />
<line x1="486.80" y1="79.51" x2="492.80" y2="79.51" stroke="#111" stroke-width="1.7" />
<line x1="502.00" y1="91.16" x2="502.00" y2="102.81" stroke="#222" stroke-width="1.3" />
<line x1="499.00" y1="91.16" x2="505.00" y2="91.16" stroke="#111" stroke-width="1.7" />
<polyline points="306.80,103.87 319.00,106.25 331.20,100.69 343.40,110.22 355.60,98.31 367.80,103.34 380.00,103.34 392.20,110.75 404.40,98.57 416.60,103.87 428.80,101.22 441.00,98.57 453.20,107.57 465.40,99.63 477.60,99.63 489.80,101.22 502.00,101.75" fill="none" stroke="#1a1a1a" stroke-width="1.3" />
<circle cx="306.80" cy="103.87" r="2.6" fill="#000"/>
<circle cx="319.00" cy="106.25" r="2.6" fill="#000"/>
<circle cx="331.20" cy="100.69" r="2.6" fill="#000"/>
<circle cx="343.40" cy="110.22" r="2.6" fill="#000"/>
<circle cx="355.60" cy="98.31" r="2.6" fill="#000"/>
<circle cx="367.80" cy="103.34" r="2.6" fill="#000"/>
<circle cx="380.00" cy="103.34" r="2.6" fill="#000"/>
<circle cx="392.20" cy="110.75" r="2.6" fill="#000"/>
<circle cx="404.40" cy="98.57" r="2.6" fill="#000"/>
<circle cx="416.60" cy="103.87" r="2.6" fill="#000"/>
<circle cx="428.80" cy="101.22" r="2.6" fill="#000"/>
<circle cx="441.00" cy="98.57" r="2.6" fill="#000"/>
<circle cx="453.20" cy="107.57" r="2.6" fill="#000"/>
<circle cx="465.40" cy="99.63" r="2.6" fill="#000"/>
<circle cx="477.60" cy="99.63" r="2.6" fill="#000"/>
<circle cx="489.80" cy="101.22" r="2.6" fill="#000"/>
<circle cx="502.00" cy="101.75" r="2.6" fill="#000"/>
<line x1="306.80" y1="90.63" x2="306.80" y2="103.87" stroke="#1a1a1a" stroke-width="1.3" />
<line x1="303.80" y1="90.63" x2="309.80" y2="90.63" stroke="#1a1a1a" stroke-width="1.7" />
<line x1="319.00" y1="85.34" x2="319.00" y2="106.25" stroke="#1a1a1a" stroke-width="1.3" />
<line x1="316.00" y1="85.34" x2="322.00" y2="85.34" stroke="#1a1a1a" stroke-width="1.7" />
<line x1="331.20" y1="75.80" x2="331.20" y2="100.69" stroke="#1a1a1a" stroke-width="1.3" />
<line x1="328.20" y1="75.80" x2="334.20" y2="75.80" stroke="#1a1a1a" stroke-width="1.7" />
<line x1="343.40" y1="89.04" x2="343.40" y2="110.22" stroke="#1a1a1a" stroke-width="1.3" />
<line x1="340.40" y1="89.04" x2="346.40" y2="89.04" stroke="#1a1a1a" stroke-width="1.7" />
<line x1="355.60" y1="73.69" x2="355.60" y2="98.31" stroke="#1a1a1a" stroke-width="1.3" />
<line x1="352.60" y1="73.69" x2="358.60" y2="73.69" stroke="#1a1a1a" stroke-width="1.7" />
<line x1="367.80" y1="82.16" x2="367.80" y2="103.34" stroke="#1a1a1a" stroke-width="1.3" />
<line x1="364.80" y1="82.16" x2="370.80" y2="82.16" stroke="#1a1a1a" stroke-width="1.7" />
<line x1="380.00" y1="80.04" x2="380.00" y2="103.34" stroke="#1a1a1a" stroke-width="1.3" />
<line x1="377.00" y1="80.04" x2="383.00" y2="80.04" stroke="#1a1a1a" stroke-width="1.7" />
<line x1="392.20" y1="71.57" x2="392.20" y2="110.75" stroke="#1a1a1a" stroke-width="1.3" />
<line x1="389.20" y1="71.57" x2="395.20" y2="71.57" stroke="#1a1a1a" stroke-width="1.7" />
<line x1="404.40" y1="84.81" x2="404.40" y2="98.57" stroke="#1a1a1a" stroke-width="1.3" />
<line x1="401.40" y1="84.81" x2="407.40" y2="84.81" stroke="#1a1a1a" stroke-width="1.7" />
<line x1="416.60" y1="76.86" x2="416.60" y2="103.87" stroke="#1a1a1a" stroke-width="1.3" />
<line x1="413.60" y1="76.86" x2="419.60" y2="76.86" stroke="#1a1a1a" stroke-width="1.7" />
<line x1="428.80" y1="76.86" x2="428.80" y2="101.22" stroke="#1a1a1a" stroke-width="1.3" />
<line x1="425.80" y1="76.86" x2="431.80" y2="76.86" stroke="#1a1a1a" stroke-width="1.7" />
<line x1="441.00" y1="74.75" x2="441.00" y2="98.57" stroke="#1a1a1a" stroke-width="1.3" />
<line x1="438.00" y1="74.75" x2="444.00" y2="74.75" stroke="#1a1a1a" stroke-width="1.7" />
<line x1="453.20" y1="80.04" x2="453.20" y2="107.57" stroke="#1a1a1a" stroke-width="1.3" />
<line x1="450.20" y1="80.04" x2="456.20" y2="80.04" stroke="#1a1a1a" stroke-width="1.7" />
<line x1="465.40" y1="74.75" x2="465.40" y2="99.63" stroke="#1a1a1a" stroke-width="1.3" />
<line x1="462.40" y1="74.75" x2="468.40" y2="74.75" stroke="#1a1a1a" stroke-width="1.7" />
<line x1="477.60" y1="74.75" x2="477.60" y2="99.63" stroke="#1a1a1a" stroke-width="1.3" />
<line x1="474.60" y1="74.75" x2="480.60" y2="74.75" stroke="#1a1a1a" stroke-width="1.7" />
<line x1="489.80" y1="73.69" x2="489.80" y2="101.22" stroke="#1a1a1a" stroke-width="1.3" />
<line x1="486.80" y1="73.69" x2="492.80" y2="73.69" stroke="#1a1a1a" stroke-width="1.7" />
<line x1="502.00" y1="78.98" x2="502.00" y2="101.75" stroke="#1a1a1a" stroke-width="1.3" />
<line x1="499.00" y1="78.98" x2="505.00" y2="78.98" stroke="#1a1a1a" stroke-width="1.7" />
<polyline points="306.80,106.25 319.00,103.34 331.20,95.40 343.40,105.46 355.60,88.51 367.80,105.99 380.00,108.10 392.20,116.05 404.40,85.34 416.60,99.10 428.80,120.81 441.00,122.40 453.20,123.99 465.40,129.81 477.60,128.22 489.80,123.99 502.00,125.58" fill="none" stroke="#9e9da3" stroke-width="1.3" />
<circle cx="306.80" cy="106.25" r="2.6" fill="#9e9da3"/>
<circle cx="319.00" cy="103.34" r="2.6" fill="#9e9da3"/>
<circle cx="331.20" cy="95.40" r="2.6" fill="#9e9da3"/>
<circle cx="343.40" cy="105.46" r="2.6" fill="#9e9da3"/>
<circle cx="355.60" cy="88.51" r="2.6" fill="#9e9da3"/>
<circle cx="367.80" cy="105.99" r="2.6" fill="#9e9da3"/>
<circle cx="380.00" cy="108.10" r="2.6" fill="#9e9da3"/>
<circle cx="392.20" cy="116.05" r="2.6" fill="#9e9da3"/>
<circle cx="404.40" cy="85.34" r="2.6" fill="#9e9da3"/>
<circle cx="416.60" cy="99.10" r="2.6" fill="#9e9da3"/>
<circle cx="428.80" cy="120.81" r="2.6" fill="#9e9da3"/>
<circle cx="441.00" cy="122.40" r="2.6" fill="#9e9da3"/>
<circle cx="453.20" cy="123.99" r="2.6" fill="#9e9da3"/>
<circle cx="465.40" cy="129.81" r="2.6" fill="#9e9da3"/>
<circle cx="477.60" cy="128.22" r="2.6" fill="#9e9da3"/>
<circle cx="489.80" cy="123.99" r="2.6" fill="#9e9da3"/>
<circle cx="502.00" cy="125.58" r="2.6" fill="#9e9da3"/>
<line x1="306.80" y1="86.92" x2="306.80" y2="106.25" stroke="#9e9da3" stroke-width="1.3" />
<line x1="303.80" y1="86.92" x2="309.80" y2="86.92" stroke="#9e9da3" stroke-width="1.7" />
<line x1="319.00" y1="87.45" x2="319.00" y2="103.34" stroke="#9e9da3" stroke-width="1.3" />
<line x1="316.00" y1="87.45" x2="322.00" y2="87.45" stroke="#9e9da3" stroke-width="1.7" />
<line x1="331.20" y1="68.92" x2="331.20" y2="95.40" stroke="#9e9da3" stroke-width="1.3" />
<line x1="328.20" y1="68.92" x2="334.20" y2="68.92" stroke="#9e9da3" stroke-width="1.7" />
<line x1="343.40" y1="92.22" x2="343.40" y2="105.46" stroke="#9e9da3" stroke-width="1.3" />
<line x1="340.40" y1="92.22" x2="346.40" y2="92.22" stroke="#9e9da3" stroke-width="1.7" />
<line x1="355.60" y1="64.16" x2="355.60" y2="88.51" stroke="#9e9da3" stroke-width="1.3" />
<line x1="352.60" y1="64.16" x2="358.60" y2="64.16" stroke="#9e9da3" stroke-width="1.7" />
<line x1="367.80" y1="88.51" x2="367.80" y2="105.99" stroke="#9e9da3" stroke-width="1.3" />
<line x1="364.80" y1="88.51" x2="370.80" y2="88.51" stroke="#9e9da3" stroke-width="1.7" />
<line x1="380.00" y1="96.45" x2="380.00" y2="108.10" stroke="#9e9da3" stroke-width="1.3" />
<line x1="377.00" y1="96.45" x2="383.00" y2="96.45" stroke="#9e9da3" stroke-width="1.7" />
<line x1="392.20" y1="99.10" x2="392.20" y2="116.05" stroke="#9e9da3" stroke-width="1.3" />
<line x1="389.20" y1="99.10" x2="395.20" y2="99.10" stroke="#9e9da3" stroke-width="1.7" />
<line x1="404.40" y1="51.45" x2="404.40" y2="85.34" stroke="#9e9da3" stroke-width="1.3" />
<line x1="401.40" y1="51.45" x2="407.40" y2="51.45" stroke="#9e9da3" stroke-width="1.7" />
<line x1="416.60" y1="76.86" x2="416.60" y2="99.10" stroke="#9e9da3" stroke-width="1.3" />
<line x1="413.60" y1="76.86" x2="419.60" y2="76.86" stroke="#9e9da3" stroke-width="1.7" />
<line x1="428.80" y1="114.46" x2="428.80" y2="120.81" stroke="#9e9da3" stroke-width="1.3" />
<line x1="425.80" y1="114.46" x2="431.80" y2="114.46" stroke="#9e9da3" stroke-width="1.7" />
<line x1="441.00" y1="117.11" x2="441.00" y2="122.40" stroke="#9e9da3" stroke-width="1.3" />
<line x1="438.00" y1="117.11" x2="444.00" y2="117.11" stroke="#9e9da3" stroke-width="1.7" />
<line x1="453.20" y1="116.05" x2="453.20" y2="123.99" stroke="#9e9da3" stroke-width="1.3" />
<line x1="450.20" y1="116.05" x2="456.20" y2="116.05" stroke="#9e9da3" stroke-width="1.7" />
<line x1="465.40" y1="126.64" x2="465.40" y2="129.81" stroke="#9e9da3" stroke-width="1.3" />
<line x1="462.40" y1="126.64" x2="468.40" y2="126.64" stroke="#9e9da3" stroke-width="1.7" />
<line x1="477.60" y1="122.93" x2="477.60" y2="128.22" stroke="#9e9da3" stroke-width="1.3" />
<line x1="474.60" y1="122.93" x2="480.60" y2="122.93" stroke="#9e9da3" stroke-width="1.7" />
<line x1="489.80" y1="116.05" x2="489.80" y2="123.99" stroke="#9e9da3" stroke-width="1.3" />
<line x1="486.80" y1="116.05" x2="492.80" y2="116.05" stroke="#9e9da3" stroke-width="1.7" />
<line x1="502.00" y1="118.16" x2="502.00" y2="125.58" stroke="#9e9da3" stroke-width="1.3" />
<line x1="499.00" y1="118.16" x2="505.00" y2="118.16" stroke="#9e9da3" stroke-width="1.7" />
<line x1="568.50" y1="37.70" x2="568.50" y2="155.90" stroke="#1a1a1a" stroke-width="1.6" />
<line x1="565.30" y1="155.10" x2="684.00" y2="155.10" stroke="#1a1a1a" stroke-width="1.6" />
<line x1="565.30" y1="155.10" x2="568.50" y2="155.10" stroke="#1a1a1a" stroke-width="1.4" />
<text transform="translate(563.90 159.13) scale(1 1.04)" font-size="11.2" text-anchor="end" font-weight="normal" font-style="normal" fill="#111" stroke="#111" stroke-width="0.25" >0</text>
<line x1="565.30" y1="133.79" x2="568.50" y2="133.79" stroke="#1a1a1a" stroke-width="1.4" />
<text transform="translate(563.90 137.82) scale(1 1.04)" font-size="11.2" text-anchor="end" font-weight="normal" font-style="normal" fill="#111" stroke="#111" stroke-width="0.25" >20</text>
<line x1="565.30" y1="112.48" x2="568.50" y2="112.48" stroke="#1a1a1a" stroke-width="1.4" />
<text transform="translate(563.90 116.51) scale(1 1.04)" font-size="11.2" text-anchor="end" font-weight="normal" font-style="normal" fill="#111" stroke="#111" stroke-width="0.25" >40</text>
<line x1="565.30" y1="91.17" x2="568.50" y2="91.17" stroke="#1a1a1a" stroke-width="1.4" />
<text transform="translate(563.90 95.20) scale(1 1.04)" font-size="11.2" text-anchor="end" font-weight="normal" font-style="normal" fill="#111" stroke="#111" stroke-width="0.25" >60</text>
<line x1="565.30" y1="69.86" x2="568.50" y2="69.86" stroke="#1a1a1a" stroke-width="1.4" />
<text transform="translate(563.90 73.89) scale(1 1.04)" font-size="11.2" text-anchor="end" font-weight="normal" font-style="normal" fill="#111" stroke="#111" stroke-width="0.25" >80</text>
<line x1="565.30" y1="48.55" x2="568.50" y2="48.55" stroke="#1a1a1a" stroke-width="1.4" />
<text transform="translate(563.90 52.58) scale(1 1.04)" font-size="11.2" text-anchor="end" font-weight="normal" font-style="normal" fill="#111" stroke="#111" stroke-width="0.25" >100</text>
<line x1="587.45" y1="41.41" x2="587.45" y2="50.68" stroke="#1a1a1a" stroke-width="1.6" />
<line x1="580.20" y1="41.41" x2="594.70" y2="41.41" stroke="#1a1a1a" stroke-width="1.8" />
<rect x="574.90" y="50.68" width="25.10" height="104.42" fill="#ffffff" stroke="#1a1a1a" stroke-width="1.8"/>
<line x1="587.45" y1="155.10" x2="587.45" y2="158.50" stroke="#1a1a1a" stroke-width="1.4" />
<text transform="translate(587.45 170.80) scale(1 1.04)" font-size="13.2" text-anchor="middle" font-weight="normal" font-style="normal" fill="#111" stroke="#111" stroke-width="0.25" >T1</text>
<line x1="626.30" y1="59.74" x2="626.30" y2="66.13" stroke="#1a1a1a" stroke-width="1.6" />
<line x1="619.05" y1="59.74" x2="633.55" y2="59.74" stroke="#1a1a1a" stroke-width="1.8" />
<rect x="614.00" y="66.13" width="24.60" height="88.97" fill="#a19fa4" stroke="#1a1a1a" stroke-width="1.8"/>
<line x1="626.30" y1="155.10" x2="626.30" y2="158.50" stroke="#1a1a1a" stroke-width="1.4" />
<text transform="translate(626.30 170.80) scale(1 1.04)" font-size="13.2" text-anchor="middle" font-weight="normal" font-style="normal" fill="#111" stroke="#111" stroke-width="0.25" >T2</text>
<line x1="664.45" y1="75.40" x2="664.45" y2="84.03" stroke="#1a1a1a" stroke-width="1.6" />
<line x1="657.20" y1="75.40" x2="671.70" y2="75.40" stroke="#1a1a1a" stroke-width="1.8" />
<rect x="652.00" y="84.03" width="24.90" height="71.07" fill="#000000" stroke="#1a1a1a" stroke-width="1.8"/>
<line x1="664.45" y1="155.10" x2="664.45" y2="158.50" stroke="#1a1a1a" stroke-width="1.4" />
<text transform="translate(664.45 170.80) scale(1 1.04)" font-size="13.2" text-anchor="middle" font-weight="normal" font-style="normal" fill="#111" stroke="#111" stroke-width="0.25" >T6</text>
<text transform="translate(589.45 35.20) scale(1 1.0)" font-size="14.3" text-anchor="middle" font-weight="normal" font-style="normal" fill="#111" stroke="#111" stroke-width="0.25" >a</text>
<text transform="translate(625.40 54.80) scale(1 1.0)" font-size="14.3" text-anchor="middle" font-weight="normal" font-style="normal" fill="#111" stroke="#111" stroke-width="0.25" >ab</text>
<text transform="translate(665.30 68.50) scale(1 1.0)" font-size="14.3" text-anchor="middle" font-weight="normal" font-style="normal" fill="#111" stroke="#111" stroke-width="0.25" >b</text>
<text transform="translate(532.30 13.80) scale(1 1.04)" font-size="19" text-anchor="start" font-weight="bold" font-style="normal" fill="#000" stroke="#000" stroke-width="0.1" >C</text>
<text transform="translate(541.00,93.55) rotate(-90) scale(1 1.015)" x="0" y="0" font-size="14.2" text-anchor="middle" fill="#111" stroke="#111" stroke-width="0.25"><tspan font-style="normal">Serum E2, pg/mL</tspan></text>
<line x1="38.20" y1="235.40" x2="38.20" y2="356.40" stroke="#1a1a1a" stroke-width="1.6" />
<line x1="35.00" y1="355.60" x2="156.00" y2="355.60" stroke="#1a1a1a" stroke-width="1.6" />
<line x1="35.00" y1="355.60" x2="38.20" y2="355.60" stroke="#1a1a1a" stroke-width="1.4" />
<text transform="translate(33.60 360.10) scale(1 1.04)" font-size="12.5" text-anchor="end" font-weight="normal" font-style="normal" fill="#111" stroke="#111" stroke-width="0.25" >0.0</text>
<line x1="35.00" y1="318.30" x2="38.20" y2="318.30" stroke="#1a1a1a" stroke-width="1.4" />
<text transform="translate(33.60 322.80) scale(1 1.04)" font-size="12.5" text-anchor="end" font-weight="normal" font-style="normal" fill="#111" stroke="#111" stroke-width="0.25" >0.5</text>
<line x1="35.00" y1="281.00" x2="38.20" y2="281.00" stroke="#1a1a1a" stroke-width="1.4" />
<text transform="translate(33.60 285.50) scale(1 1.04)" font-size="12.5" text-anchor="end" font-weight="normal" font-style="normal" fill="#111" stroke="#111" stroke-width="0.25" >1.0</text>
<line x1="35.00" y1="243.70" x2="38.20" y2="243.70" stroke="#1a1a1a" stroke-width="1.4" />
<text transform="translate(33.60 248.20) scale(1 1.04)" font-size="12.5" text-anchor="end" font-weight="normal" font-style="normal" fill="#111" stroke="#111" stroke-width="0.25" >1.5</text>
<line x1="58.00" y1="261.60" x2="58.00" y2="281.00" stroke="#1a1a1a" stroke-width="1.6" />
<line x1="50.75" y1="261.60" x2="65.25" y2="261.60" stroke="#1a1a1a" stroke-width="1.8" />
<rect x="45.30" y="281.00" width="25.40" height="74.60" fill="#ffffff" stroke="#1a1a1a" stroke-width="1.8"/>
<line x1="58.00" y1="355.60" x2="58.00" y2="359.00" stroke="#1a1a1a" stroke-width="1.4" />
<text transform="translate(58.00 371.90) scale(1 1.04)" font-size="13.5" text-anchor="middle" font-weight="normal" font-style="normal" fill="#111" stroke="#111" stroke-width="0.25" >T1</text>
<line x1="97.05" y1="315.32" x2="97.05" y2="319.05" stroke="#1a1a1a" stroke-width="1.6" />
<line x1="89.80" y1="315.32" x2="104.30" y2="315.32" stroke="#1a1a1a" stroke-width="1.8" />
<rect x="84.50" y="319.05" width="25.10" height="36.55" fill="#a19fa4" stroke="#1a1a1a" stroke-width="1.8"/>
<line x1="97.05" y1="355.60" x2="97.05" y2="359.00" stroke="#1a1a1a" stroke-width="1.4" />
<text transform="translate(97.05 371.90) scale(1 1.04)" font-size="13.5" text-anchor="middle" font-weight="normal" font-style="normal" fill="#111" stroke="#111" stroke-width="0.25" >T2</text>
<line x1="136.20" y1="328.89" x2="136.20" y2="334.19" stroke="#1a1a1a" stroke-width="1.6" />
<line x1="128.95" y1="328.89" x2="143.45" y2="328.89" stroke="#1a1a1a" stroke-width="1.8" />
<rect x="123.20" y="334.19" width="26.00" height="21.41" fill="#000000" stroke="#1a1a1a" stroke-width="1.8"/>
<line x1="136.20" y1="355.60" x2="136.20" y2="359.00" stroke="#1a1a1a" stroke-width="1.4" />
<text transform="translate(136.20 371.90) scale(1 1.04)" font-size="13.5" text-anchor="middle" font-weight="normal" font-style="normal" fill="#111" stroke="#111" stroke-width="0.25" >T6</text>
<text transform="translate(58.55 254.80) scale(1 1.0)" font-size="13.5" text-anchor="middle" font-weight="normal" font-style="normal" fill="#111" stroke="#111" stroke-width="0.25" >a</text>
<text transform="translate(97.10 308.60) scale(1 1.0)" font-size="13.5" text-anchor="middle" font-weight="normal" font-style="normal" fill="#111" stroke="#111" stroke-width="0.25" >ab</text>
<text transform="translate(136.40 323.60) scale(1 1.0)" font-size="13.5" text-anchor="middle" font-weight="normal" font-style="normal" fill="#111" stroke="#111" stroke-width="0.25" >b</text>
<text transform="translate(15.80 220.60) scale(1 1.04)" font-size="19" text-anchor="start" font-weight="bold" font-style="normal" fill="#000" stroke="#000" stroke-width="0.1" >D</text>
<text transform="translate(12.50,293.20) rotate(-90) scale(1 1.015)" x="0" y="0" font-size="14.6" text-anchor="middle" fill="#111" stroke="#111" stroke-width="0.25"><tspan font-style="italic">FSHR</tspan><tspan font-style="normal"> expression</tspan></text>
<line x1="212.90" y1="235.80" x2="212.90" y2="356.90" stroke="#1a1a1a" stroke-width="1.6" />
<line x1="209.70" y1="356.10" x2="330.40" y2="356.10" stroke="#1a1a1a" stroke-width="1.6" />
<line x1="209.70" y1="356.10" x2="212.90" y2="356.10" stroke="#1a1a1a" stroke-width="1.4" />
<text transform="translate(208.30 360.60) scale(1 1.04)" font-size="12.5" text-anchor="end" font-weight="normal" font-style="normal" fill="#111" stroke="#111" stroke-width="0.25" >0.0</text>
<line x1="209.70" y1="316.10" x2="212.90" y2="316.10" stroke="#1a1a1a" stroke-width="1.4" />
<text transform="translate(208.30 320.60) scale(1 1.04)" font-size="12.5" text-anchor="end" font-weight="normal" font-style="normal" fill="#111" stroke="#111" stroke-width="0.25" >0.5</text>
<line x1="209.70" y1="276.10" x2="212.90" y2="276.10" stroke="#1a1a1a" stroke-width="1.4" />
<text transform="translate(208.30 280.60) scale(1 1.04)" font-size="12.5" text-anchor="end" font-weight="normal" font-style="normal" fill="#111" stroke="#111" stroke-width="0.25" >1.0</text>
<line x1="209.70" y1="236.10" x2="212.90" y2="236.10" stroke="#1a1a1a" stroke-width="1.4" />
<text transform="translate(208.30 240.60) scale(1 1.04)" font-size="12.5" text-anchor="end" font-weight="normal" font-style="normal" fill="#111" stroke="#111" stroke-width="0.25" >1.5</text>
<line x1="232.55" y1="262.50" x2="232.55" y2="276.10" stroke="#1a1a1a" stroke-width="1.6" />
<line x1="225.30" y1="262.50" x2="239.80" y2="262.50" stroke="#1a1a1a" stroke-width="1.8" />
<rect x="220.30" y="276.10" width="24.50" height="80.00" fill="#ffffff" stroke="#1a1a1a" stroke-width="1.8"/>
<line x1="232.55" y1="356.10" x2="232.55" y2="359.50" stroke="#1a1a1a" stroke-width="1.4" />
<text transform="translate(232.55 372.40) scale(1 1.04)" font-size="13.5" text-anchor="middle" font-weight="normal" font-style="normal" fill="#111" stroke="#111" stroke-width="0.25" >T1</text>
<line x1="271.90" y1="286.50" x2="271.90" y2="300.10" stroke="#1a1a1a" stroke-width="1.6" />
<line x1="264.65" y1="286.50" x2="279.15" y2="286.50" stroke="#1a1a1a" stroke-width="1.8" />
<rect x="259.30" y="300.10" width="25.20" height="56.00" fill="#a19fa4" stroke="#1a1a1a" stroke-width="1.8"/>
<line x1="271.90" y1="356.10" x2="271.90" y2="359.50" stroke="#1a1a1a" stroke-width="1.4" />
<text transform="translate(271.90 372.40) scale(1 1.04)" font-size="13.5" text-anchor="middle" font-weight="normal" font-style="normal" fill="#111" stroke="#111" stroke-width="0.25" >T2</text>
<line x1="311.00" y1="319.30" x2="311.00" y2="324.10" stroke="#1a1a1a" stroke-width="1.6" />
<line x1="303.75" y1="319.30" x2="318.25" y2="319.30" stroke="#1a1a1a" stroke-width="1.8" />
<rect x="298.40" y="324.10" width="25.20" height="32.00" fill="#000000" stroke="#1a1a1a" stroke-width="1.8"/>
<line x1="311.00" y1="356.10" x2="311.00" y2="359.50" stroke="#1a1a1a" stroke-width="1.4" />
<text transform="translate(311.00 372.40) scale(1 1.04)" font-size="13.5" text-anchor="middle" font-weight="normal" font-style="normal" fill="#111" stroke="#111" stroke-width="0.25" >T6</text>
<text transform="translate(233.20 258.30) scale(1 1.0)" font-size="13.5" text-anchor="middle" font-weight="normal" font-style="normal" fill="#111" stroke="#111" stroke-width="0.25" >a</text>
<text transform="translate(272.10 282.70) scale(1 1.0)" font-size="13.5" text-anchor="middle" font-weight="normal" font-style="normal" fill="#111" stroke="#111" stroke-width="0.25" >ab</text>
<text transform="translate(311.40 316.20) scale(1 1.0)" font-size="13.5" text-anchor="middle" font-weight="normal" font-style="normal" fill="#111" stroke="#111" stroke-width="0.25" >b</text>
<text transform="translate(181.00 220.60) scale(1 1.04)" font-size="19" text-anchor="start" font-weight="bold" font-style="normal" fill="#000" stroke="#000" stroke-width="0.1" >E</text>
<text transform="translate(186.20,292.75) rotate(-90) scale(1 1.015)" x="0" y="0" font-size="14.5" text-anchor="middle" fill="#111" stroke="#111" stroke-width="0.25"><tspan font-style="italic">LHCGR</tspan><tspan font-style="normal"> expression</tspan></text>
<line x1="381.20" y1="237.00" x2="381.20" y2="359.10" stroke="#1a1a1a" stroke-width="1.6" />
<line x1="378.00" y1="358.30" x2="498.30" y2="358.30" stroke="#1a1a1a" stroke-width="1.6" />
<line x1="378.00" y1="358.30" x2="381.20" y2="358.30" stroke="#1a1a1a" stroke-width="1.4" />
<text transform="translate(376.60 362.80) scale(1 1.04)" font-size="12.5" text-anchor="end" font-weight="bold" font-style="normal" fill="#111" stroke="#111" stroke-width="0.1" >0.0</text>
<line x1="378.00" y1="318.30" x2="381.20" y2="318.30" stroke="#1a1a1a" stroke-width="1.4" />
<text transform="translate(376.60 322.80) scale(1 1.04)" font-size="12.5" text-anchor="end" font-weight="bold" font-style="normal" fill="#111" stroke="#111" stroke-width="0.1" >0.5</text>
<line x1="378.00" y1="278.30" x2="381.20" y2="278.30" stroke="#1a1a1a" stroke-width="1.4" />
<text transform="translate(376.60 282.80) scale(1 1.04)" font-size="12.5" text-anchor="end" font-weight="bold" font-style="normal" fill="#111" stroke="#111" stroke-width="0.1" >1.0</text>
<line x1="378.00" y1="238.30" x2="381.20" y2="238.30" stroke="#1a1a1a" stroke-width="1.4" />
<text transform="translate(376.60 242.80) scale(1 1.04)" font-size="12.5" text-anchor="end" font-weight="bold" font-style="normal" fill="#111" stroke="#111" stroke-width="0.1" >1.5</text>
<line x1="401.90" y1="262.30" x2="401.90" y2="278.30" stroke="#1a1a1a" stroke-width="1.6" />
<line x1="394.65" y1="262.30" x2="409.15" y2="262.30" stroke="#1a1a1a" stroke-width="1.8" />
<rect x="389.50" y="278.30" width="24.80" height="80.00" fill="#ffffff" stroke="#1a1a1a" stroke-width="1.8"/>
<line x1="401.90" y1="358.30" x2="401.90" y2="361.70" stroke="#1a1a1a" stroke-width="1.4" />
<text transform="translate(401.90 374.60) scale(1 1.04)" font-size="13.5" text-anchor="middle" font-weight="normal" font-style="normal" fill="#111" stroke="#111" stroke-width="0.25" >T1</text>
<line x1="440.85" y1="283.90" x2="440.85" y2="298.30" stroke="#1a1a1a" stroke-width="1.6" />
<line x1="433.60" y1="283.90" x2="448.10" y2="283.90" stroke="#1a1a1a" stroke-width="1.8" />
<rect x="428.20" y="298.30" width="25.30" height="60.00" fill="#a19fa4" stroke="#1a1a1a" stroke-width="1.8"/>
<line x1="440.85" y1="358.30" x2="440.85" y2="361.70" stroke="#1a1a1a" stroke-width="1.4" />
<text transform="translate(440.85 374.60) scale(1 1.04)" font-size="13.5" text-anchor="middle" font-weight="normal" font-style="normal" fill="#111" stroke="#111" stroke-width="0.25" >T2</text>
<line x1="480.20" y1="328.70" x2="480.20" y2="334.30" stroke="#1a1a1a" stroke-width="1.6" />
<line x1="472.95" y1="328.70" x2="487.45" y2="328.70" stroke="#1a1a1a" stroke-width="1.8" />
<rect x="467.20" y="334.30" width="26.00" height="24.00" fill="#000000" stroke="#1a1a1a" stroke-width="1.8"/>
<line x1="480.20" y1="358.30" x2="480.20" y2="361.70" stroke="#1a1a1a" stroke-width="1.4" />
<text transform="translate(480.20 374.60) scale(1 1.04)" font-size="13.5" text-anchor="middle" font-weight="normal" font-style="normal" fill="#111" stroke="#111" stroke-width="0.25" >T6</text>
<text transform="translate(402.50 256.80) scale(1 1.0)" font-size="13.5" text-anchor="middle" font-weight="normal" font-style="normal" fill="#111" stroke="#111" stroke-width="0.25" >a</text>
<text transform="translate(443.00 278.10) scale(1 1.0)" font-size="13.5" text-anchor="middle" font-weight="normal" font-style="normal" fill="#111" stroke="#111" stroke-width="0.25" >ab</text>
<text transform="translate(480.50 323.10) scale(1 1.0)" font-size="13.5" text-anchor="middle" font-weight="normal" font-style="normal" fill="#111" stroke="#111" stroke-width="0.25" >b</text>
<text transform="translate(352.60 220.60) scale(1 1.04)" font-size="19" text-anchor="start" font-weight="bold" font-style="normal" fill="#000" stroke="#000" stroke-width="0.1" >F</text>
<text transform="translate(355.60,296.00) rotate(-90) scale(1 1.015)" x="0" y="0" font-size="14.6" text-anchor="middle" fill="#111" stroke="#111" stroke-width="0.25"><tspan font-style="italic">GDF9</tspan><tspan font-style="normal"> expression</tspan></text>
<line x1="553.80" y1="229.40" x2="553.80" y2="352.10" stroke="#1a1a1a" stroke-width="1.6" />
<line x1="550.60" y1="351.30" x2="671.70" y2="351.30" stroke="#1a1a1a" stroke-width="1.6" />
<line x1="550.60" y1="351.30" x2="553.80" y2="351.30" stroke="#1a1a1a" stroke-width="1.4" />
<text transform="translate(549.20 355.80) scale(1 1.04)" font-size="12.5" text-anchor="end" font-weight="normal" font-style="normal" fill="#111" stroke="#111" stroke-width="0.25" >0.0</text>
<line x1="550.60" y1="310.95" x2="553.80" y2="310.95" stroke="#1a1a1a" stroke-width="1.4" />
<text transform="translate(549.20 315.45) scale(1 1.04)" font-size="12.5" text-anchor="end" font-weight="normal" font-style="normal" fill="#111" stroke="#111" stroke-width="0.25" >0.5</text>
<line x1="550.60" y1="270.60" x2="553.80" y2="270.60" stroke="#1a1a1a" stroke-width="1.4" />
<text transform="translate(549.20 275.10) scale(1 1.04)" font-size="12.5" text-anchor="end" font-weight="normal" font-style="normal" fill="#111" stroke="#111" stroke-width="0.25" >1.0</text>
<line x1="550.60" y1="230.25" x2="553.80" y2="230.25" stroke="#1a1a1a" stroke-width="1.4" />
<text transform="translate(549.20 234.75) scale(1 1.04)" font-size="12.5" text-anchor="end" font-weight="normal" font-style="normal" fill="#111" stroke="#111" stroke-width="0.25" >1.5</text>
<line x1="573.50" y1="265.35" x2="573.50" y2="270.60" stroke="#1a1a1a" stroke-width="1.6" />
<line x1="566.25" y1="265.35" x2="580.75" y2="265.35" stroke="#1a1a1a" stroke-width="1.8" />
<rect x="560.80" y="270.60" width="25.40" height="80.70" fill="#ffffff" stroke="#1a1a1a" stroke-width="1.8"/>
<line x1="573.50" y1="351.30" x2="573.50" y2="354.70" stroke="#1a1a1a" stroke-width="1.4" />
<text transform="translate(573.50 367.60) scale(1 1.04)" font-size="13.5" text-anchor="middle" font-weight="normal" font-style="normal" fill="#111" stroke="#111" stroke-width="0.25" >T1</text>
<line x1="613.10" y1="277.86" x2="613.10" y2="283.51" stroke="#1a1a1a" stroke-width="1.6" />
<line x1="605.85" y1="277.86" x2="620.35" y2="277.86" stroke="#1a1a1a" stroke-width="1.8" />
<rect x="600.60" y="283.51" width="25.00" height="67.79" fill="#a19fa4" stroke="#1a1a1a" stroke-width="1.8"/>
<line x1="613.10" y1="351.30" x2="613.10" y2="354.70" stroke="#1a1a1a" stroke-width="1.4" />
<text transform="translate(613.10 367.60) scale(1 1.04)" font-size="13.5" text-anchor="middle" font-weight="normal" font-style="normal" fill="#111" stroke="#111" stroke-width="0.25" >T2</text>
<line x1="652.50" y1="301.27" x2="652.50" y2="309.34" stroke="#1a1a1a" stroke-width="1.6" />
<line x1="645.25" y1="301.27" x2="659.75" y2="301.27" stroke="#1a1a1a" stroke-width="1.8" />
<rect x="639.80" y="309.34" width="25.40" height="41.96" fill="#000000" stroke="#1a1a1a" stroke-width="1.8"/>
<line x1="652.50" y1="351.30" x2="652.50" y2="354.70" stroke="#1a1a1a" stroke-width="1.4" />
<text transform="translate(652.50 367.60) scale(1 1.04)" font-size="13.5" text-anchor="middle" font-weight="normal" font-style="normal" fill="#111" stroke="#111" stroke-width="0.25" >T6</text>
<text transform="translate(574.30 259.70) scale(1 1.0)" font-size="13.5" text-anchor="middle" font-weight="normal" font-style="normal" fill="#111" stroke="#111" stroke-width="0.25" >a</text>
<text transform="translate(613.45 272.80) scale(1 1.0)" font-size="13.5" text-anchor="middle" font-weight="normal" font-style="normal" fill="#111" stroke="#111" stroke-width="0.25" >a</text>
<text transform="translate(652.65 295.90) scale(1 1.0)" font-size="13.5" text-anchor="middle" font-weight="normal" font-style="normal" fill="#111" stroke="#111" stroke-width="0.25" >b</text>
<text transform="translate(527.50 220.60) scale(1 1.04)" font-size="19" text-anchor="start" font-weight="bold" font-style="normal" fill="#000" stroke="#000" stroke-width="0.1" >G</text>
<text transform="translate(524.30,289.65) rotate(-90) scale(1 1.015)" x="0" y="0" font-size="14.45" text-anchor="middle" fill="#111" stroke="#111" stroke-width="0.25"><tspan font-style="italic">BMP15</tspan><tspan font-style="normal"> expression</tspan></text>
<line x1="38.00" y1="425.40" x2="38.00" y2="547.10" stroke="#1a1a1a" stroke-width="1.6" />
<line x1="34.80" y1="546.30" x2="156.20" y2="546.30" stroke="#1a1a1a" stroke-width="1.6" />
<line x1="34.80" y1="546.30" x2="38.00" y2="546.30" stroke="#1a1a1a" stroke-width="1.4" />
<text transform="translate(33.40 550.80) scale(1 1.04)" font-size="12.5" text-anchor="end" font-weight="normal" font-style="normal" fill="#111" stroke="#111" stroke-width="0.25" >0.0</text>
<line x1="34.80" y1="506.40" x2="38.00" y2="506.40" stroke="#1a1a1a" stroke-width="1.4" />
<text transform="translate(33.40 510.90) scale(1 1.04)" font-size="12.5" text-anchor="end" font-weight="normal" font-style="normal" fill="#111" stroke="#111" stroke-width="0.25" >0.5</text>
<line x1="34.80" y1="466.50" x2="38.00" y2="466.50" stroke="#1a1a1a" stroke-width="1.4" />
<text transform="translate(33.40 471.00) scale(1 1.04)" font-size="12.5" text-anchor="end" font-weight="normal" font-style="normal" fill="#111" stroke="#111" stroke-width="0.25" >1.0</text>
<line x1="34.80" y1="426.60" x2="38.00" y2="426.60" stroke="#1a1a1a" stroke-width="1.4" />
<text transform="translate(33.40 431.10) scale(1 1.04)" font-size="12.5" text-anchor="end" font-weight="normal" font-style="normal" fill="#111" stroke="#111" stroke-width="0.25" >1.5</text>
<line x1="57.95" y1="448.15" x2="57.95" y2="466.50" stroke="#1a1a1a" stroke-width="1.6" />
<line x1="50.70" y1="448.15" x2="65.20" y2="448.15" stroke="#1a1a1a" stroke-width="1.8" />
<rect x="45.30" y="466.50" width="25.30" height="79.80" fill="#ffffff" stroke="#1a1a1a" stroke-width="1.8"/>
<line x1="57.95" y1="546.30" x2="57.95" y2="549.70" stroke="#1a1a1a" stroke-width="1.4" />
<text transform="translate(57.95 562.60) scale(1 1.04)" font-size="13.5" text-anchor="middle" font-weight="normal" font-style="normal" fill="#111" stroke="#111" stroke-width="0.25" >T1</text>
<line x1="97.05" y1="464.90" x2="97.05" y2="477.67" stroke="#1a1a1a" stroke-width="1.6" />
<line x1="89.80" y1="464.90" x2="104.30" y2="464.90" stroke="#1a1a1a" stroke-width="1.8" />
<rect x="84.60" y="477.67" width="24.90" height="68.63" fill="#a19fa4" stroke="#1a1a1a" stroke-width="1.8"/>
<line x1="97.05" y1="546.30" x2="97.05" y2="549.70" stroke="#1a1a1a" stroke-width="1.4" />
<text transform="translate(97.05 562.60) scale(1 1.04)" font-size="13.5" text-anchor="middle" font-weight="normal" font-style="normal" fill="#111" stroke="#111" stroke-width="0.25" >T2</text>
<line x1="136.35" y1="514.38" x2="136.35" y2="520.76" stroke="#1a1a1a" stroke-width="1.6" />
<line x1="129.10" y1="514.38" x2="143.60" y2="514.38" stroke="#1a1a1a" stroke-width="1.8" />
<rect x="123.90" y="520.76" width="24.90" height="25.54" fill="#000000" stroke="#1a1a1a" stroke-width="1.8"/>
<line x1="136.35" y1="546.30" x2="136.35" y2="549.70" stroke="#1a1a1a" stroke-width="1.4" />
<text transform="translate(136.35 562.60) scale(1 1.04)" font-size="13.5" text-anchor="middle" font-weight="normal" font-style="normal" fill="#111" stroke="#111" stroke-width="0.25" >T6</text>
<text transform="translate(59.30 441.80) scale(1 1.0)" font-size="13.5" text-anchor="middle" font-weight="normal" font-style="normal" fill="#111" stroke="#111" stroke-width="0.25" >a</text>
<text transform="translate(97.10 459.60) scale(1 1.0)" font-size="13.5" text-anchor="middle" font-weight="normal" font-style="normal" fill="#111" stroke="#111" stroke-width="0.25" >ab</text>
<text transform="translate(136.80 509.30) scale(1 1.0)" font-size="13.5" text-anchor="middle" font-weight="normal" font-style="normal" fill="#111" stroke="#111" stroke-width="0.25" >b</text>
<text transform="translate(15.80 417.00) scale(1 1.04)" font-size="19" text-anchor="start" font-weight="bold" font-style="normal" fill="#000" stroke="#000" stroke-width="0.1" >H</text>
<text transform="translate(12.50,482.50) rotate(-90) scale(1 1.015)" x="0" y="0" font-size="14.6" text-anchor="middle" fill="#111" stroke="#111" stroke-width="0.25"><tspan font-style="italic">CYP11A</tspan><tspan font-style="normal"> expression</tspan></text>
<line x1="209.40" y1="430.60" x2="209.40" y2="551.00" stroke="#1a1a1a" stroke-width="1.6" />
<line x1="206.20" y1="550.20" x2="327.00" y2="550.20" stroke="#1a1a1a" stroke-width="1.6" />
<line x1="206.20" y1="550.20" x2="209.40" y2="550.20" stroke="#1a1a1a" stroke-width="1.4" />
<text transform="translate(204.80 554.70) scale(1 1.04)" font-size="12.5" text-anchor="end" font-weight="normal" font-style="normal" fill="#111" stroke="#111" stroke-width="0.25" >0.0</text>
<line x1="206.20" y1="510.50" x2="209.40" y2="510.50" stroke="#1a1a1a" stroke-width="1.4" />
<text transform="translate(204.80 515.00) scale(1 1.04)" font-size="12.5" text-anchor="end" font-weight="normal" font-style="normal" fill="#111" stroke="#111" stroke-width="0.25" >0.5</text>
<line x1="206.20" y1="470.80" x2="209.40" y2="470.80" stroke="#1a1a1a" stroke-width="1.4" />
<text transform="translate(204.80 475.30) scale(1 1.04)" font-size="12.5" text-anchor="end" font-weight="normal" font-style="normal" fill="#111" stroke="#111" stroke-width="0.25" >1.0</text>
<line x1="206.20" y1="431.10" x2="209.40" y2="431.10" stroke="#1a1a1a" stroke-width="1.4" />
<text transform="translate(204.80 435.60) scale(1 1.04)" font-size="12.5" text-anchor="end" font-weight="normal" font-style="normal" fill="#111" stroke="#111" stroke-width="0.25" >1.5</text>
<line x1="229.10" y1="446.19" x2="229.10" y2="470.80" stroke="#1a1a1a" stroke-width="1.6" />
<line x1="221.85" y1="446.19" x2="236.35" y2="446.19" stroke="#1a1a1a" stroke-width="1.8" />
<rect x="216.70" y="470.80" width="24.80" height="79.40" fill="#ffffff" stroke="#1a1a1a" stroke-width="1.8"/>
<line x1="229.10" y1="550.20" x2="229.10" y2="553.60" stroke="#1a1a1a" stroke-width="1.4" />
<text transform="translate(229.10 566.50) scale(1 1.04)" font-size="13.5" text-anchor="middle" font-weight="normal" font-style="normal" fill="#111" stroke="#111" stroke-width="0.25" >T1</text>
<line x1="268.40" y1="461.27" x2="268.40" y2="474.77" stroke="#1a1a1a" stroke-width="1.6" />
<line x1="261.15" y1="461.27" x2="275.65" y2="461.27" stroke="#1a1a1a" stroke-width="1.8" />
<rect x="256.10" y="474.77" width="24.60" height="75.43" fill="#a19fa4" stroke="#1a1a1a" stroke-width="1.8"/>
<line x1="268.40" y1="550.20" x2="268.40" y2="553.60" stroke="#1a1a1a" stroke-width="1.4" />
<text transform="translate(268.40 566.50) scale(1 1.04)" font-size="13.5" text-anchor="middle" font-weight="normal" font-style="normal" fill="#111" stroke="#111" stroke-width="0.25" >T2</text>
<line x1="307.45" y1="526.38" x2="307.45" y2="529.16" stroke="#1a1a1a" stroke-width="1.6" />
<line x1="300.20" y1="526.38" x2="314.70" y2="526.38" stroke="#1a1a1a" stroke-width="1.8" />
<rect x="294.70" y="529.16" width="25.50" height="21.04" fill="#000000" stroke="#1a1a1a" stroke-width="1.8"/>
<line x1="307.45" y1="550.20" x2="307.45" y2="553.60" stroke="#1a1a1a" stroke-width="1.4" />
<text transform="translate(307.45 566.50) scale(1 1.04)" font-size="13.5" text-anchor="middle" font-weight="normal" font-style="normal" fill="#111" stroke="#111" stroke-width="0.25" >T6</text>
<text transform="translate(231.70 439.60) scale(1 1.0)" font-size="13.5" text-anchor="middle" font-weight="normal" font-style="normal" fill="#111" stroke="#111" stroke-width="0.25" >a</text>
<text transform="translate(270.90 455.90) scale(1 1.0)" font-size="13.5" text-anchor="middle" font-weight="normal" font-style="normal" fill="#111" stroke="#111" stroke-width="0.25" >a</text>
<text transform="translate(308.00 519.10) scale(1 1.0)" font-size="13.5" text-anchor="middle" font-weight="normal" font-style="normal" fill="#111" stroke="#111" stroke-width="0.25" >b</text>
<text transform="translate(180.80 417.00) scale(1 1.04)" font-size="19" text-anchor="start" font-weight="bold" font-style="normal" fill="#000" stroke="#000" stroke-width="0.1" >I</text>
<text transform="translate(183.70,487.20) rotate(-90) scale(1 1.015)" x="0" y="0" font-size="14.4" text-anchor="middle" fill="#111" stroke="#111" stroke-width="0.25"><tspan font-style="italic">STAR</tspan><tspan font-style="normal"> expression</tspan></text>
<line x1="383.00" y1="429.60" x2="383.00" y2="550.20" stroke="#1a1a1a" stroke-width="1.6" />
<line x1="379.80" y1="549.40" x2="500.80" y2="549.40" stroke="#1a1a1a" stroke-width="1.6" />
<line x1="379.80" y1="549.40" x2="383.00" y2="549.40" stroke="#1a1a1a" stroke-width="1.4" />
<text transform="translate(378.40 553.90) scale(1 1.04)" font-size="12.5" text-anchor="end" font-weight="normal" font-style="normal" fill="#111" stroke="#111" stroke-width="0.25" >0.0</text>
<line x1="379.80" y1="509.35" x2="383.00" y2="509.35" stroke="#1a1a1a" stroke-width="1.4" />
<text transform="translate(378.40 513.85) scale(1 1.04)" font-size="12.5" text-anchor="end" font-weight="normal" font-style="normal" fill="#111" stroke="#111" stroke-width="0.25" >0.5</text>
<line x1="379.80" y1="469.30" x2="383.00" y2="469.30" stroke="#1a1a1a" stroke-width="1.4" />
<text transform="translate(378.40 473.80) scale(1 1.04)" font-size="12.5" text-anchor="end" font-weight="normal" font-style="normal" fill="#111" stroke="#111" stroke-width="0.25" >1.0</text>
<line x1="379.80" y1="429.25" x2="383.00" y2="429.25" stroke="#1a1a1a" stroke-width="1.4" />
<text transform="translate(378.40 433.75) scale(1 1.04)" font-size="12.5" text-anchor="end" font-weight="normal" font-style="normal" fill="#111" stroke="#111" stroke-width="0.25" >1.5</text>
<line x1="402.95" y1="446.87" x2="402.95" y2="469.30" stroke="#1a1a1a" stroke-width="1.6" />
<line x1="395.70" y1="446.87" x2="410.20" y2="446.87" stroke="#1a1a1a" stroke-width="1.8" />
<rect x="390.30" y="469.30" width="25.30" height="80.10" fill="#ffffff" stroke="#1a1a1a" stroke-width="1.8"/>
<line x1="402.95" y1="549.40" x2="402.95" y2="552.80" stroke="#1a1a1a" stroke-width="1.4" />
<text transform="translate(402.95 565.70) scale(1 1.04)" font-size="13.5" text-anchor="middle" font-weight="normal" font-style="normal" fill="#111" stroke="#111" stroke-width="0.25" >T1</text>
<line x1="441.90" y1="486.92" x2="441.90" y2="502.14" stroke="#1a1a1a" stroke-width="1.6" />
<line x1="434.65" y1="486.92" x2="449.15" y2="486.92" stroke="#1a1a1a" stroke-width="1.8" />
<rect x="429.50" y="502.14" width="24.80" height="47.26" fill="#a19fa4" stroke="#1a1a1a" stroke-width="1.8"/>
<line x1="441.90" y1="549.40" x2="441.90" y2="552.80" stroke="#1a1a1a" stroke-width="1.4" />
<text transform="translate(441.90 565.70) scale(1 1.04)" font-size="13.5" text-anchor="middle" font-weight="normal" font-style="normal" fill="#111" stroke="#111" stroke-width="0.25" >T2</text>
<line x1="481.05" y1="534.58" x2="481.05" y2="534.98" stroke="#1a1a1a" stroke-width="1.6" />
<line x1="473.80" y1="534.58" x2="488.30" y2="534.58" stroke="#1a1a1a" stroke-width="1.8" />
<rect x="468.40" y="534.98" width="25.30" height="14.42" fill="#000000" stroke="#1a1a1a" stroke-width="1.8"/>
<line x1="481.05" y1="549.40" x2="481.05" y2="552.80" stroke="#1a1a1a" stroke-width="1.4" />
<text transform="translate(481.05 565.70) scale(1 1.04)" font-size="13.5" text-anchor="middle" font-weight="normal" font-style="normal" fill="#111" stroke="#111" stroke-width="0.25" >T6</text>
<text transform="translate(403.20 442.20) scale(1 1.0)" font-size="13.5" text-anchor="middle" font-weight="normal" font-style="normal" fill="#111" stroke="#111" stroke-width="0.25" >a</text>
<text transform="translate(440.80 481.10) scale(1 1.0)" font-size="13.5" text-anchor="middle" font-weight="normal" font-style="normal" fill="#111" stroke="#111" stroke-width="0.25" >ab</text>
<text transform="translate(481.20 527.90) scale(1 1.0)" font-size="13.5" text-anchor="middle" font-weight="normal" font-style="normal" fill="#111" stroke="#111" stroke-width="0.25" >b</text>
<text transform="translate(358.80 417.00) scale(1 1.04)" font-size="19" text-anchor="start" font-weight="bold" font-style="normal" fill="#000" stroke="#000" stroke-width="0.1" >J</text>
<text transform="translate(357.50,486.50) rotate(-90) scale(1 1.015)" x="0" y="0" font-size="14.6" text-anchor="middle" fill="#111" stroke="#111" stroke-width="0.25"><tspan font-style="italic">3β-HSD</tspan><tspan font-style="normal"> expression</tspan></text>
<line x1="554.90" y1="429.40" x2="554.90" y2="550.00" stroke="#1a1a1a" stroke-width="1.6" />
<line x1="551.70" y1="549.20" x2="672.40" y2="549.20" stroke="#1a1a1a" stroke-width="1.6" />
<line x1="551.70" y1="549.20" x2="554.90" y2="549.20" stroke="#1a1a1a" stroke-width="1.4" />
<text transform="translate(550.30 553.70) scale(1 1.04)" font-size="12.5" text-anchor="end" font-weight="normal" font-style="normal" fill="#111" stroke="#111" stroke-width="0.25" >0.0</text>
<line x1="551.70" y1="514.95" x2="554.90" y2="514.95" stroke="#1a1a1a" stroke-width="1.4" />
<text transform="translate(550.30 519.45) scale(1 1.04)" font-size="12.5" text-anchor="end" font-weight="normal" font-style="normal" fill="#111" stroke="#111" stroke-width="0.25" >0.5</text>
<line x1="551.70" y1="480.70" x2="554.90" y2="480.70" stroke="#1a1a1a" stroke-width="1.4" />
<text transform="translate(550.30 485.20) scale(1 1.04)" font-size="12.5" text-anchor="end" font-weight="normal" font-style="normal" fill="#111" stroke="#111" stroke-width="0.25" >1.0</text>
<line x1="551.70" y1="446.45" x2="554.90" y2="446.45" stroke="#1a1a1a" stroke-width="1.4" />
<text transform="translate(550.30 450.95) scale(1 1.04)" font-size="12.5" text-anchor="end" font-weight="normal" font-style="normal" fill="#111" stroke="#111" stroke-width="0.25" >1.5</text>
<line x1="573.75" y1="469.74" x2="573.75" y2="480.70" stroke="#1a1a1a" stroke-width="1.6" />
<line x1="566.50" y1="469.74" x2="581.00" y2="469.74" stroke="#1a1a1a" stroke-width="1.8" />
<rect x="561.30" y="480.70" width="24.90" height="68.50" fill="#ffffff" stroke="#1a1a1a" stroke-width="1.8"/>
<line x1="573.75" y1="549.20" x2="573.75" y2="552.60" stroke="#1a1a1a" stroke-width="1.4" />
<text transform="translate(573.75 565.50) scale(1 1.04)" font-size="13.5" text-anchor="middle" font-weight="normal" font-style="normal" fill="#111" stroke="#111" stroke-width="0.25" >T1</text>
<line x1="613.35" y1="451.25" x2="613.35" y2="456.04" stroke="#1a1a1a" stroke-width="1.6" />
<line x1="606.10" y1="451.25" x2="620.60" y2="451.25" stroke="#1a1a1a" stroke-width="1.8" />
<rect x="600.90" y="456.04" width="24.90" height="93.16" fill="#a19fa4" stroke="#1a1a1a" stroke-width="1.8"/>
<line x1="613.35" y1="549.20" x2="613.35" y2="552.60" stroke="#1a1a1a" stroke-width="1.4" />
<text transform="translate(613.35 565.50) scale(1 1.04)" font-size="13.5" text-anchor="middle" font-weight="normal" font-style="normal" fill="#111" stroke="#111" stroke-width="0.25" >T2</text>
<line x1="652.30" y1="437.55" x2="652.30" y2="449.88" stroke="#1a1a1a" stroke-width="1.6" />
<line x1="645.05" y1="437.55" x2="659.55" y2="437.55" stroke="#1a1a1a" stroke-width="1.8" />
<rect x="639.50" y="449.88" width="25.60" height="99.32" fill="#000000" stroke="#1a1a1a" stroke-width="1.8"/>
<line x1="652.30" y1="549.20" x2="652.30" y2="552.60" stroke="#1a1a1a" stroke-width="1.4" />
<text transform="translate(652.30 565.50) scale(1 1.04)" font-size="13.5" text-anchor="middle" font-weight="normal" font-style="normal" fill="#111" stroke="#111" stroke-width="0.25" >T6</text>
<text transform="translate(534.30 417.00) scale(1 1.04)" font-size="19" text-anchor="start" font-weight="bold" font-style="normal" fill="#000" stroke="#000" stroke-width="0.1" >K</text>
<text transform="translate(524.00,486.50) rotate(-90) scale(1 1.015)" x="0" y="0" font-size="14.6" text-anchor="middle" fill="#111" stroke="#111" stroke-width="0.25"><tspan font-style="italic">CYP17A</tspan><tspan font-style="normal"> expression</tspan></text>
</svg></body></html>
